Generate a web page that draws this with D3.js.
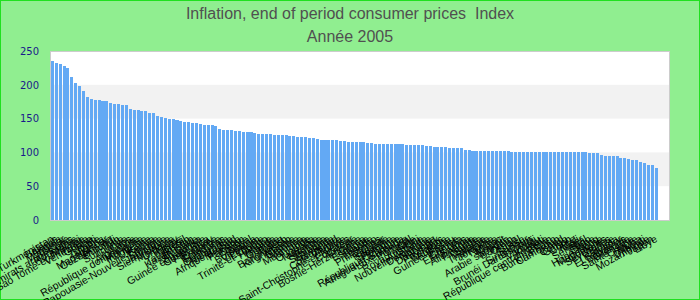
<!DOCTYPE html>
<html>
<head>
<meta charset="utf-8">
<script src="https://cdn.jsdelivr.net/npm/d3@7"></script>
<style>
  html, body { margin: 0; padding: 0; background: #90ee90; }
  svg { display: block; }
</style>
</head>
<body>
<div id="chart"></div>
<script>
const WIDTH = 700;
const HEIGHT = 300;
const PLOT = { left: 50, right: 670, top: 51, bottom: 220 };

const titleLines = ['Inflation, end of period consumer prices  Index', 'Année 2005'];
const yTicks = [0, 50, 100, 150, 200, 250];
const bands = [[150, 200], [50, 100]];

const countries = [
  'Turkménistan', 'Bélarus', 'Angola', 'Myanmar', 'Turquie', 'Émirats arabes unis', 'Roumanie', 'Malawi', 'Sao Tomé-et-Principe', 'Venezuela',
  'Ghana', 'Haïti', 'Zambie', 'Nigéria', 'Madagascar', 'Ouzbékistan', 'Burundi', 'Iran', 'Suriname', 'Guinée',
  'Laos', 'Argentine', 'République dominicaine', 'Mongolie', 'Indonésie', 'Ukraine', 'Kenya', 'Papouasie-Nouvelle-Guinée', 'Éthiopie', 'Jamaïque',
  'Sierra Leone', 'Moldavie', 'Uruguay', 'Russie', 'Brésil', 'Tadjikistan', 'Kazakhstan', 'Bulgarie', 'Sri Lanka', 'Guinée équatoriale',
  'Costa Rica', 'Paraguay', 'Érythrée', 'Colombie', 'Honduras', 'Guatemala', 'Nicaragua', 'Afrique du Sud', 'Mexique', 'Pakistan',
  'Égypte', 'Népal', 'Botswana', 'Viet Nam', 'Lettonie', 'Trinité-et-Tobago', 'Hongrie', 'Islande', 'Géorgie', 'Tonga',
  'Bangladesh', 'Kirghizistan', 'Albanie', 'Gambie', 'Maurice', 'Mauritanie', 'Inde', 'Ouganda', 'Tanzanie', 'Namibie',
  'Estonie', 'Slovaquie', 'Rwanda', 'Swaziland', 'Côte d\'Ivoire', 'Bolivie', 'Saint-Christophe-et-Niévès', 'Équateur', 'Croatie', 'Bosnie-Herzégovine',
  'Grèce', 'Espagne', 'Irlande', 'Lesotho', 'Philippines', 'Qatar', 'Barbade', 'Slovénie', 'Pologne', 'République tchèque',
  'Antigua-et-Barbuda', 'Luxembourg', 'Portugal', 'Italie', 'Royaume-Uni', 'Australie', 'Nouvelle-Zélande', 'Dominique', 'Norvège', 'Danemark',
  'Pays-Bas', 'Belgique', 'Autriche', 'Guinée-Bissau', 'France', 'Canada', 'États-Unis', 'Samoa', 'Allemagne', 'Finlande',
  'Suède', 'Malaisie', 'Thaïlande', 'Jordanie', 'Tunisie', 'Maroc', 'Koweït', 'Arabie saoudite', 'Bahreïn', 'Oman',
  'Israël', 'Suisse', 'Singapour', 'Brunéi Darussalam', 'Fidji', 'Vanuatu', 'Kiribati', 'République centrafricaine', 'Bénin', 'Burkina Faso',
  'Cameroun', 'Tchad', 'Congo', 'Gabon', 'Corée', 'Mali', 'Niger', 'Sénégal', 'Togo', 'Chine',
  'Hong Kong', 'Macédoine', 'Comores', 'Seychelles', 'Belize', 'Panama', 'El Salvador', 'Bahamas', 'Grenade', 'Sainte-Lucie',
  'Chypre', 'Aruba', 'Djibouti', 'Mozambique', 'Japon', 'Libye'
];

const values = [
  235.6, 232.7, 231.2, 228.3, 225.3, 212.0, 203.1, 198.7, 191.3, 182.4,
  179.4, 178.0, 178.0, 176.5, 176.5, 173.5, 172.0, 172.0, 170.6, 170.6,
  164.6, 163.2, 163.2, 161.7, 161.7, 158.7, 158.7, 154.3, 152.8, 151.3,
  149.9, 149.4, 147.9, 146.4, 145.0, 145.0, 143.5, 143.5, 142.0, 140.5,
  140.5, 140.5, 139.0, 134.6, 133.1, 133.1, 133.1, 131.7, 131.7, 130.2,
  130.2, 130.2, 128.7, 127.2, 127.2, 127.2, 127.2, 125.7, 125.7, 125.7,
  125.7, 124.3, 124.3, 122.8, 122.8, 122.8, 121.3, 121.3, 119.8, 118.3,
  118.3, 118.3, 118.3, 118.3, 116.9, 116.9, 115.4, 115.4, 115.4, 115.4,
  115.4, 113.9, 113.9, 112.4, 112.4, 112.4, 112.4, 112.4, 112.4, 112.4,
  112.4, 110.9, 110.9, 110.9, 110.9, 110.9, 109.5, 109.5, 108.0, 108.0,
  108.0, 108.0, 106.5, 106.5, 106.5, 106.5, 103.6, 103.6, 102.1, 102.1,
  102.1, 102.1, 102.1, 102.1, 102.1, 102.1, 102.1, 102.1, 100.6, 100.6,
  100.6, 100.6, 100.6, 100.6, 100.6, 100.6, 100.6, 100.6, 100.6, 100.6,
  100.6, 100.6, 100.6, 100.6, 100.6, 100.6, 100.6, 100.6, 99.1, 99.1,
  99.1, 96.2, 94.7, 94.7, 94.7, 94.7, 91.7, 91.7, 90.2, 88.8,
  88.8, 85.8, 84.3, 81.4, 81.4, 77.0
];

const svg = d3.select('#chart').append('svg')
  .attr('width', WIDTH)
  .attr('height', HEIGHT)
  .attr('viewBox', [0, 0, WIDTH, HEIGHT]);

// background + outer border
svg.append('rect')
  .attr('x', 0.5).attr('y', 0.5)
  .attr('width', WIDTH - 1).attr('height', HEIGHT - 1)
  .attr('fill', '#90ee90')
  .attr('stroke', '#1fe01f');

const x = d3.scaleBand()
  .domain(countries)
  .range([PLOT.left, PLOT.left + 3.9 * countries.length])
  .padding(0.22);

const y = d3.scaleLinear()
  .domain([0, 250])
  .range([PLOT.bottom, PLOT.top]);

// plot area
svg.append('rect')
  .attr('x', PLOT.left).attr('y', PLOT.top)
  .attr('width', PLOT.right - PLOT.left).attr('height', PLOT.bottom - PLOT.top)
  .attr('fill', '#ffffff');

svg.append('g')
  .selectAll('rect')
  .data(bands)
  .join('rect')
  .attr('x', PLOT.left)
  .attr('y', (d) => y(d[1]))
  .attr('width', PLOT.right - PLOT.left)
  .attr('height', (d) => y(d[0]) - y(d[1]))
  .attr('fill', '#f2f2f2');

// bars
svg.append('g')
  .attr('shape-rendering', 'crispEdges')
  .selectAll('rect')
  .data(values)
  .join('rect')
  .attr('x', (d, i) => x(countries[i]))
  .attr('y', (d) => y(d))
  .attr('width', x.bandwidth())
  .attr('height', (d) => y(0) - y(d))
  .attr('fill', '#63a9f4');

// frame
svg.append('rect')
  .attr('x', PLOT.left + 0.5).attr('y', PLOT.top + 0.5)
  .attr('width', PLOT.right - PLOT.left - 1).attr('height', PLOT.bottom - PLOT.top)
  .attr('fill', 'none')
  .attr('stroke', '#cccccc');

// y axis labels
const yAxis = d3.axisLeft(y).tickValues(yTicks).tickSize(0).tickPadding(11);
const yg = svg.append('g')
  .attr('transform', `translate(${PLOT.left},0)`)
  .call(yAxis);
yg.select('.domain').remove();
yg.selectAll('text')
  .attr('fill', '#1a1a8a')
  .attr('font-family', 'DejaVu Sans')
  .attr('font-size', 10);

// x axis labels, rotated (they pile up on each other, as in the original)
const xAxis = d3.axisBottom(x).tickSize(0).tickPadding(0);
const xg = svg.append('g')
  .attr('transform', `translate(0,${PLOT.bottom})`)
  .call(xAxis);
xg.select('.domain').remove();
xg.selectAll('.tick text')
  .attr('fill', '#000')
  .attr('font-family', 'Liberation Sans, Arial, sans-serif')
  .attr('font-size', 10.5)
  .attr('text-anchor', 'end')
  .attr('y', 0)
  .attr('dy', 0)
  .attr('transform', 'translate(2,21) rotate(-30)');

// titles
svg.append('g')
  .selectAll('text')
  .data(titleLines)
  .join('text')
  .attr('x', WIDTH / 2)
  .attr('y', (d, i) => 18.5 + i * 23.5)
  .attr('text-anchor', 'middle')
  .attr('fill', '#505050')
  .attr('font-family', 'Liberation Sans, Arial, sans-serif')
  .attr('font-size', 16)
  .style('white-space', 'pre')
  .text((d) => d);
</script>
</body>
</html>
